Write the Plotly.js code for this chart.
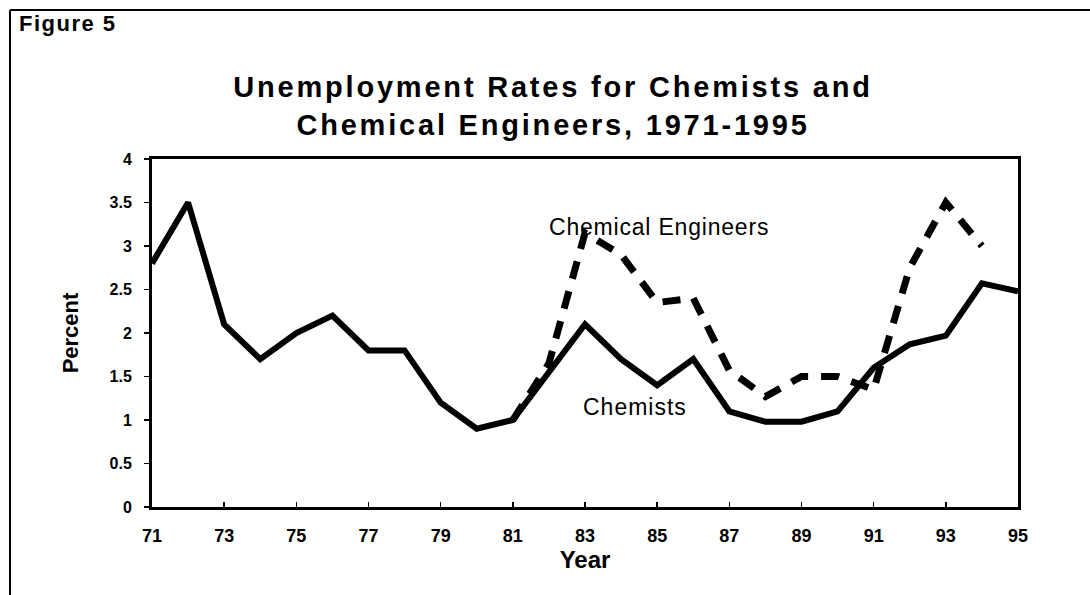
<!DOCTYPE html>
<html>
<head>
<meta charset="utf-8">
<script src="https://cdn.plot.ly/plotly-3.0.1.min.js"></script>
<style>
  html, body { margin: 0; padding: 0; background: #ffffff; }
  #chart { width: 1090px; height: 595px; }
</style>
</head>
<body>
<div id="chart"></div>
<script>
// ---- data ----
var years = [71, 72, 73, 74, 75, 76, 77, 78, 79, 80, 81, 82, 83, 84, 85, 86, 87, 88, 89, 90, 91, 92, 93, 94, 95];
var chemists = [2.8, 3.5, 2.1, 1.7, 2.0, 2.2, 1.8, 1.8, 1.2, 0.9, 1.0, 1.55, 2.1, 1.7, 1.4, 1.7, 1.1, 0.98, 0.98, 1.1, 1.6, 1.87, 1.97, 2.57, 2.48];
var chemEngineers = [null, null, null, null, null, null, null, null, null, null, 1.0, 1.65, 3.15, 2.9, 2.35, 2.4, 1.57, 1.27, 1.5, 1.5, 1.35, 2.75, 3.5, 3.0, null];
var xTickVals = [71, 73, 75, 77, 79, 81, 83, 85, 87, 89, 91, 93, 95];
var xTickText = ["71", "73", "75", "77", "79", "81", "83", "85", "87", "89", "91", "93", "95"];
var yTickVals = [0, 0.5, 1, 1.5, 2, 2.5, 3, 3.5, 4];
var yTickText = ["0", "0.5", "1", "1.5", "2", "2.5", "3", "3.5", "4"];
var seriesNames = ["Chemists", "Chemical Engineers"];
var titleLines = ["Unemployment Rates for Chemists and", "Chemical Engineers, 1971-1995"];
var figureLabel = "Figure 5";
var xTitle = "Year";
var yTitle = "Percent";

var FONT = "Liberation Sans, Arial, Helvetica, sans-serif";
function spaced(t, px) { return '<span style="letter-spacing:' + px + 'px">' + t + '</span>'; }

var traces = [
  {
    x: years, y: chemists, name: seriesNames[0], type: "scatter", mode: "lines",
    line: { color: "#000000", width: 6, shape: "linear" },
    connectgaps: false, hoverinfo: "skip"
  },
  {
    x: years, y: chemEngineers, name: seriesNames[1], type: "scatter", mode: "lines",
    line: { color: "#000000", width: 7, dash: "18px,13px", shape: "linear" },
    connectgaps: false, hoverinfo: "skip"
  }
];

// plot area in pixels: x 152..1018, y 159..507
var L = 152, R = 1090 - 1018, T = 159, B = 595 - 507;
var PW = 1090 - L - R, PH = 595 - T - B;
function px2paperX(px) { return (px - L) / PW; }
function px2paperY(py) { return (595 - B - py) / PH; }

var layout = {
  width: 1090, height: 595,
  paper_bgcolor: "#ffffff", plot_bgcolor: "#ffffff",
  margin: { l: L, r: R, t: T, b: B, pad: 0 },
  showlegend: false,
  font: { family: FONT, color: "#000000" },
  title: {
    text: spaced(titleLines[0], 2.8) + "<br>" + spaced(titleLines[1], 2.8),
    font: { family: FONT, size: 29, weight: "bold", color: "#000000" },
    xref: "container", yref: "container",
    x: 553 / 1090, xanchor: "center",
    y: 1 - 97 / 595, yanchor: "top"
  },
  xaxis: {
    range: [71, 95],
    tickmode: "array", tickvals: xTickVals, ticktext: xTickText,
    ticks: "inside", ticklen: 5, tickwidth: 1.5, tickcolor: "#000000",
    showline: true, linewidth: 3, linecolor: "#000000", mirror: true,
    showgrid: false, zeroline: false,
    ticklabelstandoff: 10,
    tickfont: { family: FONT, size: 18, weight: "bold", color: "#000000" },
    title: { text: xTitle, standoff: 2,
             font: { family: FONT, size: 24, weight: "bold", color: "#000000" } },
    automargin: false, fixedrange: true
  },
  yaxis: {
    range: [0, 4],
    tickmode: "array", tickvals: yTickVals, ticktext: yTickText,
    ticks: "outside", ticklen: 5, tickwidth: 1.5, tickcolor: "#000000",
    showline: true, linewidth: 3, linecolor: "#000000", mirror: true,
    showgrid: false, zeroline: false,
    ticklabelstandoff: 9,
    tickfont: { family: FONT, size: 16, weight: "bold", color: "#000000" },
    title: { text: yTitle, standoff: 25,
             font: { family: FONT, size: 22, weight: "bold", color: "#000000" } },
    automargin: false, fixedrange: true
  },
  annotations: [
    {
      text: spaced(figureLabel, 1.5), xref: "paper", yref: "paper",
      x: px2paperX(17), y: px2paperY(23), xanchor: "left", yanchor: "middle",
      showarrow: false, font: { family: FONT, size: 22, weight: "bold", color: "#000000" }
    },
    {
      text: spaced(seriesNames[1], 0.8), xref: "paper", yref: "paper",
      x: px2paperX(659), y: px2paperY(227), xanchor: "center", yanchor: "middle",
      showarrow: false, font: { family: FONT, size: 23, color: "#000000" }
    },
    {
      text: spaced(seriesNames[0], 1), xref: "paper", yref: "paper",
      x: px2paperX(635), y: px2paperY(407), xanchor: "center", yanchor: "middle",
      showarrow: false, font: { family: FONT, size: 23, color: "#000000" }
    }
  ],
  shapes: [
    // outer figure frame: only top and left edges fall inside the picture
    { type: "line", xref: "paper", yref: "paper",
      x0: px2paperX(10), x1: px2paperX(1095), y0: px2paperY(10), y1: px2paperY(10),
      line: { color: "#000000", width: 2 } },
    { type: "line", xref: "paper", yref: "paper",
      x0: px2paperX(10), x1: px2paperX(10), y0: px2paperY(10), y1: px2paperY(600),
      line: { color: "#000000", width: 2 } }
  ]
};

Plotly.newPlot("chart", traces, layout, { displayModeBar: false, staticPlot: true });
</script>
</body>
</html>
